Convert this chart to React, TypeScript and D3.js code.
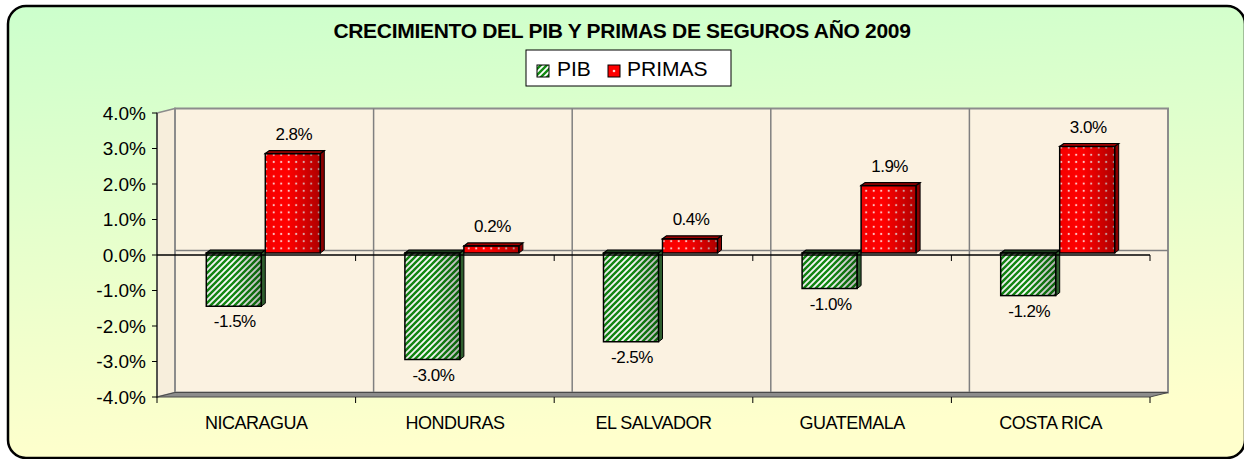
import * as d3 from 'd3';
import React from 'react';

const categories = ['NICARAGUA', 'HONDURAS', 'EL SALVADOR', 'GUATEMALA', 'COSTA RICA'];
const seriesNames = ['PIB', 'PRIMAS'];
const pibValues = [-1.5, -3.0, -2.5, -1.0, -1.2];
const primasValues = [2.8, 0.2, 0.4, 1.9, 3.0];
const yTicks = [-4, -3, -2, -1, 0, 1, 2, 3, 4];

const W = 1244;
const H = 459;
const FONT = 'Liberation Sans, Arial, sans-serif';

// 3d wall offset
const DX = 18;
const DY = -4.5;
// bar sits at mid depth
const BDX = 9;
const BDY = -2;
// bar own depth
const SDX = 4;
const SDY = -3;

const fmt = (v: number) => v.toFixed(1) + '%';

function Bar({ x, w, y0, y1, kind }: { x: number; w: number; y0: number; y1: number; kind: string }) {
  const top = Math.min(y0, y1);
  const bot = Math.max(y0, y1);
  const fw = w - SDX;
  const front = kind === 'PIB' ? 'url(#stripes)' : 'url(#dots)';
  const shade = kind === 'PIB' ? 'url(#shadeG)' : 'url(#shadeR)';
  const side = kind === 'PIB' ? '#2f5f2f' : '#8a0000';
  const topc = kind === 'PIB' ? '#1f3f1f' : '#a00000';
  return (
    <g>
      <rect x={x} y={top} width={fw} height={bot - top} fill={front} />
      <rect x={x} y={top} width={fw} height={bot - top} fill={shade} />
      <path
        d={`M${x + fw},${top} L${x + fw + SDX},${top + SDY} L${x + fw + SDX},${bot + SDY} L${x + fw},${bot} Z`}
        fill={side}
        stroke="#000"
        strokeWidth={1}
      />
      <path
        d={`M${x},${top} L${x + SDX},${top + SDY} L${x + fw + SDX},${top + SDY} L${x + fw},${top} Z`}
        fill={topc}
        stroke="#000"
        strokeWidth={1.2}
      />
      <rect x={x} y={top} width={fw} height={bot - top} fill="none" stroke="#000" strokeWidth={1.5} />
    </g>
  );
}

export default function App() {
  const x0 = d3.scaleBand<string>().domain(categories).range([157, 1150]);
  const x1 = d3.scaleBand<string>().domain(seriesNames).range([0, 118]);
  const y = d3.scaleLinear().domain([-4, 4]).range([397, 113]);

  const bw = x0.bandwidth();
  const wallL = 157 + DX;
  const wallR = 1150 + DX;
  const wallT = y(4) + DY;
  const wallB = y(-4) + DY;
  const bounds = d3.range(categories.length + 1).map((i) => 157 + i * bw);

  const data = categories.map((c, i) => ({ c, PIB: pibValues[i], PRIMAS: primasValues[i] }));

  return (
    <svg width={W} height={H} style={{ position: 'absolute', left: 0, top: 0 }} fontFamily={FONT}>
      <defs>
        <linearGradient id="bg" x1="0" y1="0" x2="0.15" y2="1">
          <stop offset="0" stopColor="#ccffcc" />
          <stop offset="1" stopColor="#ffffcc" />
        </linearGradient>
        <pattern id="stripes" width="6" height="6" patternUnits="userSpaceOnUse">
          <rect width="6" height="6" fill="#ffffff" />
          <path d="M-1,7 L7,-1 M-4,4 L4,-4 M2,10 L10,2" stroke="#128a12" strokeWidth="2.4" />
        </pattern>
        <pattern id="dots" width="7.5" height="7.2" patternUnits="userSpaceOnUse">
          <rect width="7.5" height="7.2" fill="#ff0000" />
          <circle cx="3.7" cy="3.6" r="1.05" fill="#ffd6d6" />
        </pattern>
        <linearGradient id="shadeG" x1="0" y1="0" x2="1" y2="0">
          <stop offset="0" stopColor="#000" stopOpacity="0.08" />
          <stop offset="0.45" stopColor="#000" stopOpacity="0" />
          <stop offset="1" stopColor="#000" stopOpacity="0.3" />
        </linearGradient>
        <linearGradient id="shadeR" x1="0" y1="0" x2="1" y2="0">
          <stop offset="0" stopColor="#000" stopOpacity="0.04" />
          <stop offset="0.4" stopColor="#000" stopOpacity="0" />
          <stop offset="0.6" stopColor="#000" stopOpacity="0.1" />
          <stop offset="1" stopColor="#000" stopOpacity="0.32" />
        </linearGradient>
      </defs>

      <rect x={8} y={6} width={1237} height={452} rx={18} fill="url(#bg)" stroke="#000" strokeWidth={2.5} />

      <text x={622} y={38} textAnchor="middle" fontSize={21} fontWeight="bold" letterSpacing={-0.3}>
        CRECIMIENTO DEL PIB Y PRIMAS DE SEGUROS AÑO 2009
      </text>

      <g>
        <rect x={526} y={50} width={205} height={36} fill="#fff" stroke="#000" strokeWidth={1} />
        <rect x={537} y={65} width={12} height={12} fill="url(#stripes)" stroke="#000" strokeWidth={1} />
        <text x={557} y={76} fontSize={21}>PIB</text>
        <rect x={608} y={65} width={12} height={12} fill="#ff0000" stroke="#000" strokeWidth={1} />
        <circle cx={614} cy={71} r={1.3} fill="#ffd6d6" />
        <text x={627} y={76} fontSize={21}>PRIMAS</text>
      </g>

      {/* side wall */}
      <path
        d={`M157,${y(4)} L${wallL},${wallT} L${wallL},${wallB} L157,${y(-4)} Z`}
        fill="#f7eedc"
        stroke="#8c8c8c"
        strokeWidth={1.5}
      />
      {/* back wall */}
      <rect x={wallL} y={wallT} width={wallR - wallL} height={wallB - wallT} fill="#fbf2e1" stroke="#8c8c8c" strokeWidth={2} />
      {bounds.slice(1, -1).map((b, i) => (
        <line key={i} x1={b + DX} x2={b + DX} y1={wallT} y2={wallB} stroke="#808080" strokeWidth={1.5} />
      ))}
      <line x1={wallL} x2={wallR} y1={y(0) + DY} y2={y(0) + DY} stroke="#808080" strokeWidth={1.5} />
      {/* floor */}
      <path
        d={`M157,${y(-4)} L1150,${y(-4)} L${wallR},${wallB} L${wallL},${wallB} Z`}
        fill="#8c8c8c"
        stroke="#4a4a4a"
        strokeWidth={1}
      />

      {/* y axis */}
      <line x1={157} x2={157} y1={y(4)} y2={y(-4)} stroke="#000" strokeWidth={1} />
      {yTicks.map((t) => (
        <g key={t}>
          <line x1={152} x2={157} y1={y(t)} y2={y(t)} stroke="#000" strokeWidth={1} />
          <text x={146} y={y(t) + 6.5} textAnchor="end" fontSize={19}>
            {fmt(t)}
          </text>
        </g>
      ))}

      {/* bars */}
      {data.map((d) => {
        const cx = (x0(d.c) as number) + bw / 2 + BDX - 59;
        return seriesNames.map((s) => {
          const v = (d as any)[s] as number;
          const bx = cx + (x1(s) as number);
          const yz = y(0) + BDY;
          const yv = y(v) + BDY;
          const lx = bx + (x1.bandwidth() - SDX) / 2 + 1;
          const ly = v >= 0 ? yv - 14 : yv + 21;
          return (
            <g key={d.c + s}>
              <Bar x={bx} w={x1.bandwidth()} y0={yz} y1={yv} kind={s} />
              <text x={lx} y={ly} textAnchor="middle" fontSize={17} letterSpacing={-0.5}>
                {fmt(v)}
              </text>
            </g>
          );
        });
      })}

      {/* front zero axis */}
      <line x1={157} x2={1150} y1={y(0)} y2={y(0)} stroke="#000" strokeWidth={1.5} />
      {bounds.slice(1).map((b, i) => (
        <line key={i} x1={b} x2={b} y1={y(0)} y2={y(0) + 6} stroke="#000" strokeWidth={1} />
      ))}
      {bounds.map((b, i) => (
        <line key={i} x1={b} x2={b} y1={y(-4)} y2={y(-4) + 6} stroke="#000" strokeWidth={1} />
      ))}

      {categories.map((c) => (
        <text key={c} x={(x0(c) as number) + bw / 2} y={429} textAnchor="middle" fontSize={18} letterSpacing={-0.5}>
          {c}
        </text>
      ))}
    </svg>
  );
}
